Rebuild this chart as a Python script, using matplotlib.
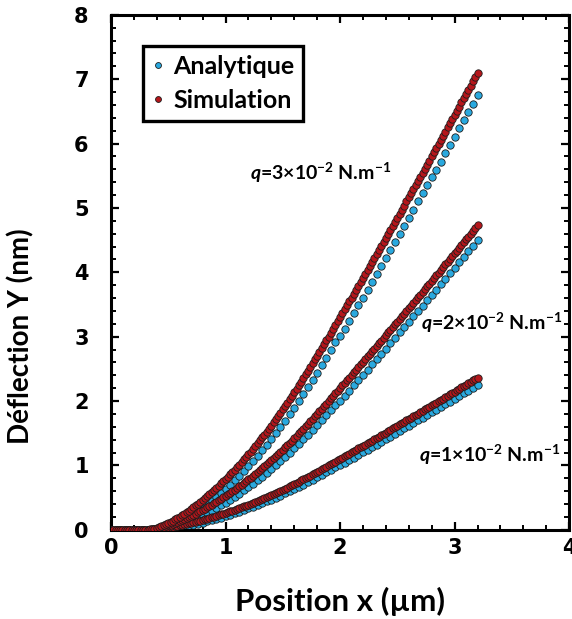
import numpy as np
import matplotlib
matplotlib.use("Agg")
import matplotlib.pyplot as plt
from matplotlib.ticker import MultipleLocator

# Polices : texte en Lato gras, chiffres des axes en DejaVu Sans gras
plt.rcParams['font.family'] = ['Lato', 'DejaVu Sans']
plt.rcParams['mathtext.fontset'] = 'custom'
plt.rcParams['mathtext.rm'] = 'Lato:bold'
plt.rcParams['mathtext.it'] = 'Lato:italic:bold'
plt.rcParams['mathtext.bf'] = 'Lato:bold'

# Abscisses (µm) : simulation tous les 0.02, analytique tous les 0.04
x_sim = np.round(np.arange(0, 3.2001, 0.02), 2)
x_ana = np.round(np.arange(0, 3.2001, 0.04), 2)

# Simulation (nm)
sim_q3 = [0, 0, 0, 0, 0, 0, 0, 0, 0, 0,
          0, 0, 0, 0, 0, 0, 0.002, 0.006, 0.011, 0.019,
          0.030, 0.042, 0.056, 0.071, 0.087, 0.105, 0.124, 0.143, 0.163, 0.184,
          0.205, 0.228, 0.251, 0.275, 0.300, 0.325, 0.352, 0.379, 0.407, 0.436,
          0.465, 0.495, 0.526, 0.557, 0.588, 0.620, 0.653, 0.687, 0.721, 0.755,
          0.790, 0.826, 0.863, 0.900, 0.937, 0.975, 1.015, 1.055, 1.095, 1.135,
          1.175, 1.217, 1.260, 1.303, 1.346, 1.390, 1.435, 1.481, 1.527, 1.573,
          1.620, 1.670, 1.720, 1.770, 1.820, 1.870, 1.922, 1.975, 2.028, 2.081,
          2.135, 2.191, 2.247, 2.303, 2.359, 2.415, 2.473, 2.531, 2.589, 2.647,
          2.705, 2.764, 2.823, 2.882, 2.942, 3.002, 3.062, 3.122, 3.182, 3.243,
          3.304, 3.365, 3.426, 3.487, 3.548, 3.609, 3.670, 3.731, 3.792, 3.854,
          3.916, 3.978, 4.040, 4.102, 4.164, 4.225, 4.287, 4.349, 4.411, 4.473,
          4.536, 4.599, 4.662, 4.725, 4.787, 4.849, 4.912, 4.975, 5.038, 5.101,
          5.164, 5.227, 5.290, 5.354, 5.418, 5.481, 5.545, 5.609, 5.673, 5.737,
          5.800, 5.864, 5.928, 5.992, 6.056, 6.121, 6.186, 6.251, 6.315, 6.380,
          6.444, 6.509, 6.574, 6.639, 6.704, 6.769, 6.834, 6.899, 6.965, 7.030,
          7.096]
sim_q2 = [0, 0, 0, 0, 0, 0, 0, 0, 0, 0,
          0, 0, 0, 0, 0, 0, 0.001, 0.004, 0.007, 0.013,
          0.020, 0.028, 0.037, 0.047, 0.058, 0.070, 0.083, 0.095, 0.109, 0.123,
          0.137, 0.152, 0.167, 0.183, 0.200, 0.217, 0.235, 0.253, 0.271, 0.291,
          0.310, 0.330, 0.351, 0.371, 0.392, 0.413, 0.435, 0.458, 0.481, 0.503,
          0.527, 0.551, 0.575, 0.600, 0.625, 0.650, 0.677, 0.703, 0.730, 0.757,
          0.783, 0.811, 0.840, 0.869, 0.897, 0.927, 0.957, 0.987, 1.018, 1.049,
          1.080, 1.113, 1.147, 1.180, 1.213, 1.247, 1.281, 1.317, 1.352, 1.387,
          1.423, 1.461, 1.498, 1.535, 1.573, 1.610, 1.649, 1.687, 1.726, 1.765,
          1.803, 1.843, 1.882, 1.921, 1.961, 2.001, 2.041, 2.081, 2.121, 2.162,
          2.203, 2.243, 2.284, 2.325, 2.365, 2.406, 2.447, 2.487, 2.528, 2.569,
          2.611, 2.652, 2.693, 2.735, 2.776, 2.817, 2.858, 2.899, 2.941, 2.982,
          3.024, 3.066, 3.108, 3.150, 3.191, 3.233, 3.275, 3.317, 3.359, 3.401,
          3.443, 3.485, 3.527, 3.569, 3.612, 3.654, 3.697, 3.739, 3.782, 3.825,
          3.867, 3.909, 3.952, 3.995, 4.037, 4.081, 4.124, 4.167, 4.210, 4.253,
          4.296, 4.339, 4.383, 4.426, 4.469, 4.513, 4.556, 4.599, 4.643, 4.687,
          4.731]
sim_q1 = [0, 0, 0, 0, 0, 0, 0, 0, 0, 0,
          0, 0, 0, 0, 0, 0, 0.001, 0.002, 0.004, 0.006,
          0.010, 0.014, 0.019, 0.024, 0.029, 0.035, 0.041, 0.048, 0.054, 0.061,
          0.068, 0.076, 0.084, 0.092, 0.100, 0.108, 0.117, 0.126, 0.136, 0.145,
          0.155, 0.165, 0.175, 0.186, 0.196, 0.207, 0.218, 0.229, 0.240, 0.252,
          0.263, 0.275, 0.288, 0.300, 0.312, 0.325, 0.338, 0.352, 0.365, 0.378,
          0.392, 0.406, 0.420, 0.434, 0.449, 0.463, 0.478, 0.494, 0.509, 0.524,
          0.540, 0.557, 0.573, 0.590, 0.607, 0.623, 0.641, 0.658, 0.676, 0.694,
          0.712, 0.730, 0.749, 0.768, 0.786, 0.805, 0.824, 0.844, 0.863, 0.882,
          0.902, 0.921, 0.941, 0.961, 0.981, 1.001, 1.021, 1.041, 1.061, 1.081,
          1.101, 1.122, 1.142, 1.162, 1.183, 1.203, 1.223, 1.244, 1.264, 1.285,
          1.305, 1.326, 1.347, 1.367, 1.388, 1.408, 1.429, 1.450, 1.470, 1.491,
          1.512, 1.533, 1.554, 1.575, 1.596, 1.616, 1.637, 1.658, 1.679, 1.700,
          1.721, 1.742, 1.763, 1.785, 1.806, 1.827, 1.848, 1.870, 1.891, 1.912,
          1.933, 1.955, 1.976, 1.997, 2.019, 2.040, 2.062, 2.084, 2.105, 2.127,
          2.148, 2.170, 2.191, 2.213, 2.235, 2.256, 2.278, 2.300, 2.322, 2.343,
          2.365]

# Analytique (nm)
ana_q3 = [0, 0, 0, 0, 0, 0, 0, 0, 0, 0,
          0.001, 0.008, 0.024, 0.049, 0.079, 0.114, 0.153, 0.194, 0.239, 0.287,
          0.338, 0.393, 0.450, 0.510, 0.572, 0.636, 0.704, 0.772, 0.844, 0.918,
          0.995, 1.075, 1.155, 1.238, 1.324, 1.412, 1.504, 1.596, 1.695, 1.795,
          1.896, 2.001, 2.108, 2.219, 2.331, 2.444, 2.560, 2.676, 2.793, 2.912,
          3.012, 3.122, 3.243, 3.365, 3.487, 3.609, 3.731, 3.854, 3.978, 4.102,
          4.225, 4.349, 4.473, 4.599, 4.725, 4.849, 4.975, 5.101, 5.227, 5.354,
          5.481, 5.593, 5.721, 5.848, 5.976, 6.105, 6.235, 6.364, 6.493, 6.623,
          6.753]
ana_q2 = [0, 0, 0, 0, 0, 0, 0, 0, 0, 0,
          0.001, 0.005, 0.016, 0.033, 0.053, 0.076, 0.102, 0.129, 0.159, 0.191,
          0.225, 0.262, 0.300, 0.340, 0.381, 0.424, 0.469, 0.515, 0.563, 0.612,
          0.663, 0.717, 0.770, 0.825, 0.883, 0.941, 1.003, 1.064, 1.130, 1.197,
          1.264, 1.334, 1.405, 1.479, 1.554, 1.629, 1.707, 1.784, 1.862, 1.941,
          2.008, 2.081, 2.162, 2.243, 2.325, 2.406, 2.487, 2.569, 2.652, 2.735,
          2.817, 2.899, 2.982, 3.066, 3.150, 3.233, 3.317, 3.401, 3.485, 3.569,
          3.654, 3.729, 3.814, 3.899, 3.984, 4.070, 4.157, 4.243, 4.329, 4.415,
          4.502]
ana_q1 = [0, 0, 0, 0, 0, 0, 0, 0, 0, 0,
          0.000, 0.003, 0.008, 0.016, 0.026, 0.038, 0.051, 0.065, 0.080, 0.096,
          0.113, 0.131, 0.150, 0.170, 0.191, 0.212, 0.235, 0.257, 0.281, 0.306,
          0.332, 0.358, 0.385, 0.413, 0.441, 0.471, 0.501, 0.532, 0.565, 0.598,
          0.632, 0.667, 0.703, 0.740, 0.777, 0.815, 0.853, 0.892, 0.931, 0.971,
          1.004, 1.041, 1.081, 1.122, 1.162, 1.203, 1.244, 1.285, 1.326, 1.367,
          1.408, 1.450, 1.491, 1.533, 1.575, 1.616, 1.658, 1.700, 1.742, 1.785,
          1.827, 1.864, 1.907, 1.949, 1.992, 2.035, 2.078, 2.121, 2.164, 2.208,
          2.251]

labels_q = [r'$q$=1×10$^{\mathrm{-2}}$ N.m$^{\mathrm{-1}}$',
            r'$q$=2×10$^{\mathrm{-2}}$ N.m$^{\mathrm{-1}}$',
            r'$q$=3×10$^{\mathrm{-2}}$ N.m$^{\mathrm{-1}}$']
label_pos = [(2.69, 1.16), (2.71, 3.21), (1.21, 5.54)]

bleu = '#2AA9DF'
rouge = '#B5161B'

fig = plt.figure(figsize=(5.72, 6.19), dpi=100)
ax = fig.add_axes([0.194, 0.144, 0.801, 0.832])

# Analytique en dessous, simulation par-dessus
style = dict(ls='none', marker='o', ms=5.3, mec='#1c1c1c', mew=0.6)
h_ana = None
for y in [ana_q1, ana_q2, ana_q3]:
    h, = ax.plot(x_ana, y, mfc=bleu, zorder=2, **style)
    h_ana = h_ana or h
h_sim = None
for y in [sim_q1, sim_q2, sim_q3]:
    h, = ax.plot(x_sim, y, mfc=rouge, zorder=3, **style)
    h_sim = h_sim or h

for txt, (tx, ty) in zip(labels_q, label_pos):
    ax.text(tx, ty, txt, fontsize=14, fontweight='bold', va='center', ha='left')

ax.set_xlim(0, 4)
ax.set_ylim(0, 8)
ax.xaxis.set_major_locator(MultipleLocator(1))
ax.xaxis.set_minor_locator(MultipleLocator(0.2))
ax.yaxis.set_major_locator(MultipleLocator(1))
ax.yaxis.set_minor_locator(MultipleLocator(0.2))
ax.tick_params(which='both', direction='in', top=True, right=True)
ax.tick_params(which='major', length=6, width=1.6)
ax.tick_params(which='minor', length=3.8, width=1.4)
ax.tick_params(axis='x', pad=6)
ax.tick_params(axis='y', pad=16)
for lab in ax.get_xticklabels() + ax.get_yticklabels():
    lab.set_family('DejaVu Sans')
    lab.set_fontweight('bold')
    lab.set_fontsize(15)
for sp in ax.spines.values():
    sp.set_linewidth(2.2)

ax.set_xlabel('Position x (µm)', fontsize=22.5, fontweight='bold')
ax.xaxis.set_label_coords(0.5, -0.111)
ax.set_ylabel('Déflection Y (nm)', fontsize=20, fontweight='bold')
ax.yaxis.set_label_coords(-0.166, 0.377)

leg = ax.legend([h_ana, h_sim], ['Analytique', 'Simulation'], loc='upper left',
                bbox_to_anchor=(0.07, 0.94), borderaxespad=0, fancybox=False,
                edgecolor='black', framealpha=1, markerscale=0.8,
                handlelength=0.5, handletextpad=0.35, borderpad=0.35,
                labelspacing=0.45, prop={'weight': 'bold', 'size': 18})
leg.get_frame().set_linewidth(2.4)

plt.savefig('out.png', dpi=100)
plt.close()
